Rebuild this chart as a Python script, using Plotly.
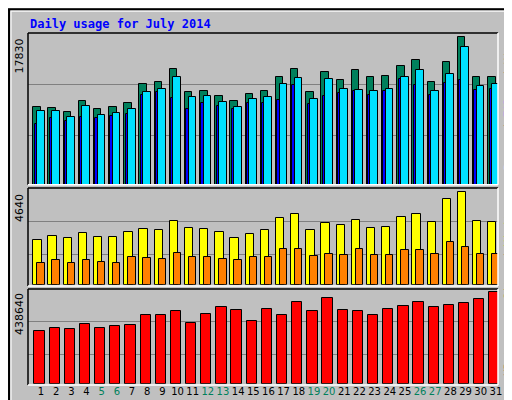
import plotly.graph_objects as go

days = list(range(1, 32))
hits = [9400,9270,8790,10080,9150,9400,9880,12180,12420,13990,11210,11330,10730,10120,10970,11330,13030,13990,11210,13590,12630,13830,13030,13150,14360,15090,12420,14850,17830,13030,13030]
files = [8870,8870,8190,9520,8430,8670,9150,11210,11580,13030,10610,10730,10000,9400,10370,10610,12180,12910,10370,12790,11580,11460,11330,11580,13030,13870,11330,13390,16580,11940,12180]
pages = [7340,8070,7700,8190,8070,8310,8550,10850,11210,10490,9150,9880,9520,9150,9880,9880,10240,12060,9760,10730,11090,11330,10850,11330,12790,12060,10850,12300,12660,11460,11580]
visits = [2220,2440,2340,2590,2390,2390,2640,2790,2740,3190,2840,2790,2640,2340,2540,2740,3340,3540,2740,3090,2990,3240,2840,2890,3390,3540,3140,4290,4640,3190,3140]
sites = [1080,1240,1080,1240,1130,1080,1390,1340,1290,1590,1390,1390,1290,1240,1390,1390,1790,1790,1440,1540,1490,1790,1490,1490,1740,1740,1540,2140,1890,1540,1540]
kbytes = [252640,267000,262200,286100,267000,276600,281400,329200,329200,348400,290900,334000,367500,353100,300500,358700,329200,391400,348400,409000,353100,348400,329200,358700,373100,391400,367500,377100,386700,405800,438640]
weekend = {5, 6, 12, 13, 19, 20, 26, 27}

BG = "#C0C0C0"
fig = go.Figure()
ol = dict(color="black", width=1)
def bar(y, color, off, w, xa, ya):
    fig.add_trace(go.Bar(x=days, y=y, marker=dict(color=color, line=ol), offset=off, width=w,
                         xaxis=xa, yaxis=ya, showlegend=False, hoverinfo="y"))

bar(hits, "#00805C", -0.15, 0.49, "x", "y")
bar(pages, "#0000FF", -0.06, 0.2, "x", "y")
bar(files, "#00E0FF", 0.09, 0.51, "x", "y")
bar(visits, "#FFFF00", -0.15, 0.55, "x2", "y2")
bar(sites, "#FF8000", 0.11, 0.49, "x2", "y2")
bar(kbytes, "#FF0000", -0.08, 0.68, "x3", "y3")

xr = [0.5, 31.5]
xd = [20/512, 490/512]
ticktext = [f"<span style='color:#00805C'>{d}</span>" if d in weekend else str(d) for d in days]
common_x = dict(range=xr, domain=xd, showgrid=False, zeroline=False, fixedrange=True, showline=False, automargin=False)
fig.update_layout(
    width=512, height=400, margin=dict(l=0, r=0, t=0, b=0, autoexpand=False),
    paper_bgcolor=BG, plot_bgcolor=BG, barmode="overlay", bargap=0,
    font=dict(family="DejaVu Sans Mono", size=11, color="black"),
    xaxis=dict(**common_x, showticklabels=False, anchor="y"),
    xaxis2=dict(**common_x, showticklabels=False, anchor="y2"),
    xaxis3=dict(**common_x, anchor="y3", tickvals=[d + 0.36 for d in days], ticktext=ticktext,
                ticks="", tickangle=0, tickfont=dict(family="DejaVu Sans", size=10)),
)
def yax(top, fr, dom):
    return dict(range=[0, top], domain=dom, tickvals=[top*f for f in fr], showticklabels=False, automargin=False,
                gridcolor="#808080", gridwidth=1, zeroline=False, fixedrange=True)
fig.update_layout(
    yaxis=yax(18313, [0.325, 0.662], [1-176.7/400, 1-25/400]),
    yaxis2=yax(4840, [0.31, 0.655], [1-276.7/400, 1-180/400]),
    yaxis3=yax(453000, [0.31, 0.66], [1-375.7/400, 1-281/400]),
)
shapes = [
    dict(type="rect", xref="paper", yref="paper", x0=0.002, y0=0.003, x1=0.998, y1=0.997, line=dict(color="black", width=2)),
    dict(type="line", xref="paper", yref="paper", x0=0.006, y0=0.992, x1=0.994, y1=0.992, line=dict(color="white", width=1)),
    dict(type="line", xref="paper", yref="paper", x0=0.006, y0=0.008, x1=0.006, y1=0.992, line=dict(color="white", width=1)),
    dict(type="line", xref="paper", yref="paper", x0=0.994, y0=0.008, x1=0.994, y1=0.992, line=dict(color="#808080", width=2)),
    dict(type="line", xref="paper", yref="paper", x0=0.006, y0=0.008, x1=0.994, y1=0.008, line=dict(color="#808080", width=2)),
]
for (a, b) in [(25, 176.7), (180, 278), (281, 377)]:
    y0, y1 = 1-b/400, 1-a/400
    shapes.append(dict(type="line", xref="paper", yref="paper", x0=xd[0], y0=y1, x1=xd[1], y1=y1, line=dict(color="black", width=1.5)))
    shapes.append(dict(type="line", xref="paper", yref="paper", x0=xd[0], y0=y0, x1=xd[0], y1=y1, line=dict(color="black", width=1.5)))
    shapes.append(dict(type="line", xref="paper", yref="paper", x0=xd[1], y0=y0, x1=xd[1], y1=y1, line=dict(color="white", width=1.5)))
    shapes.append(dict(type="line", xref="paper", yref="paper", x0=xd[0], y0=y0, x1=xd[1], y1=y0, line=dict(color="white", width=1.5)))
fig.update_layout(shapes=shapes)

ann = [
    dict(x=20/512, y=1-16/400, text="<b>Daily usage for July 2014</b>", xanchor="left", yanchor="middle",
         font=dict(color="#0000FF", size=12, family="DejaVu Sans Mono")),
    dict(x=11/512, y=1-29/400, text="17830", textangle=-90, xanchor="center", yanchor="top", font=dict(size=11, family="DejaVu Sans")),
    dict(x=11/512, y=1-184/400, text="4640", textangle=-90, xanchor="center", yanchor="top", font=dict(size=11, family="DejaVu Sans")),
    dict(x=11/512, y=1-283/400, text="438640", textangle=-90, xanchor="center", yanchor="top", font=dict(size=11, family="DejaVu Sans")),
    dict(x=500/512, y=1-28/400, textangle=-90, xanchor="center", yanchor="top",
         text="<span style='color:#00E0FF'>Pages</span> / <span style='color:#0000FF'>Files</span> / <span style='color:#00805C'>Hits</span>"),
    dict(x=500/512, y=1-197/400, textangle=-90, xanchor="center", yanchor="top",
         text="<span style='color:#FF8000'>Sites</span> / <span style='color:#FFFF00'>Visits</span>"),
    dict(x=500/512, y=1-370/400, textangle=-90, xanchor="center", yanchor="bottom",
         text="<span style='color:#FF0000'>KBytes</span>"),
]
for a in ann:
    a.update(xref="paper", yref="paper", showarrow=False)
fig.update_layout(annotations=ann)
fig.write_html("out.html")
